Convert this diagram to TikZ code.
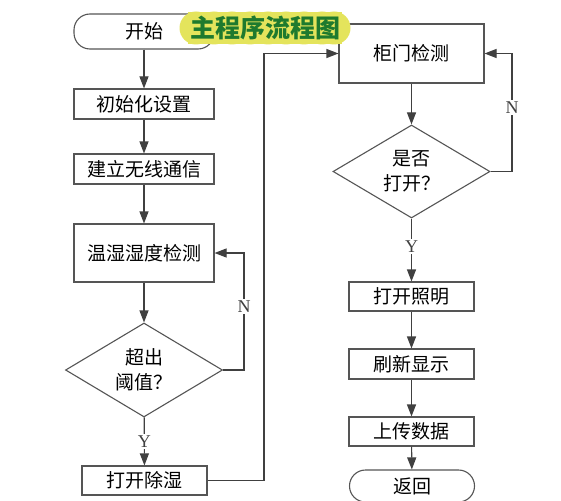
\documentclass[tikz,border=0pt]{standalone}
\usepackage{fontspec}
\setmainfont{Liberation Serif}
\newfontfamily\cjk{Noto Sans CJK SC}
\usetikzlibrary{shapes.geometric,arrows.meta}
\definecolor{linegray}{HTML}{404040}
\definecolor{boxgray}{HTML}{555555}
\definecolor{badgeyellow}{HTML}{E4E45C}
\definecolor{titlegreen}{HTML}{1E7A2E}
\tikzset{
  procbox/.style={draw=boxgray, line width=1.1pt, fill=white, minimum width=140pt, minimum height=30pt, inner sep=0pt, font=\cjk\fontsize{19}{21}\selectfont},
  smallbox/.style={procbox, minimum width=125pt, minimum height=29pt},
  termbox/.style={procbox, rounded corners=16pt},
  decbox/.style={draw=boxgray, line width=1.1pt, fill=white, diamond, aspect=1.68, minimum width=157pt, minimum height=94pt, inner sep=0pt, align=center, font=\cjk\fontsize{19}{25}\selectfont},
  flow/.style={draw=linegray, line width=1.1pt, -{Triangle[length=12pt,width=9pt]}},
  yn/.style={fill=white, inner sep=1.5pt, font=\fontsize{18}{18}\selectfont, text=linegray}
}
\begin{document}
\begin{tikzpicture}[x=1pt,y=-1pt]
\clip (0,0) rectangle (561,500);
\fill[white] (0,0) rectangle (561,500);
% nodes
\node[termbox, minimum height=35pt] (start) at (144,31.5) {开始};
\node[procbox] (init) at (144,104) {初始化设置};
\node[procbox] (wifi) at (144,169) {建立无线通信};
\node[procbox, minimum height=58pt] (sense) at (144,253) {温湿湿度检测};
\node[decbox] (dec1) at (144,370) {超出\\阈值？};
\node[smallbox] (dehum) at (144.5,480.5) {打开除湿};
\node[procbox, minimum width=145pt, minimum height=59pt] (gate) at (411.5,53.5) {柜门检测};
\node[decbox, minimum height=93pt] (dec2) at (411.5,171.5) {是否\\打开？};
\node[smallbox] (light) at (411.5,296.5) {打开照明};
\node[smallbox, minimum height=30pt] (refresh) at (411.5,364) {刷新显示};
\node[smallbox] (upload) at (411.5,431.5) {上传数据};
\node[termbox, minimum width=125pt, minimum height=32pt] (ret) at (412,486) {返回};
% coordinates
\coordinate (n1) at (244,370);
\coordinate (d1) at (264,480.5);
\coordinate (n2) at (512,171.5);
% connectors
\draw[flow] (start) -- (init);
\draw[flow] (init) -- (wifi);
\draw[flow] (wifi) -- (sense);
\draw[flow] (sense) -- (dec1);
\draw[flow] (dec1) -- node[yn, pos=0.5] (y1) {Y} (dehum);
\draw[flow] (dec1.east) -- (n1) |- node[yn, pos=0.27] (nl1) {N} (sense.east);
\draw[flow] (dehum.east) -- (d1) |- (gate.west);
\draw[flow] (gate) -- (dec2);
\draw[flow] (dec2.east) -- (n2) |- node[yn, pos=0.27] (nl2) {N} (gate.east);
\draw[flow] (dec2) -- node[yn, pos=0.45] (y2) {Y} (light);
\draw[flow] (light) -- (refresh);
\draw[flow] (refresh) -- (upload);
\draw[flow] (upload) -- (ret);
% title badge
\begin{scope}
\fill[badgeyellow] (188,12) rectangle (342,44);
\foreach \cx in {196,214,232,250,268,286,304,322,334}
  \fill[badgeyellow] (\cx,28) circle (16.5pt);
\end{scope}
\node[text=titlegreen, font=\cjk\bfseries\fontsize{25}{25}\selectfont, inner sep=0pt] (title) at (265,28) {主程序流程图};
\end{tikzpicture}
\end{document}
